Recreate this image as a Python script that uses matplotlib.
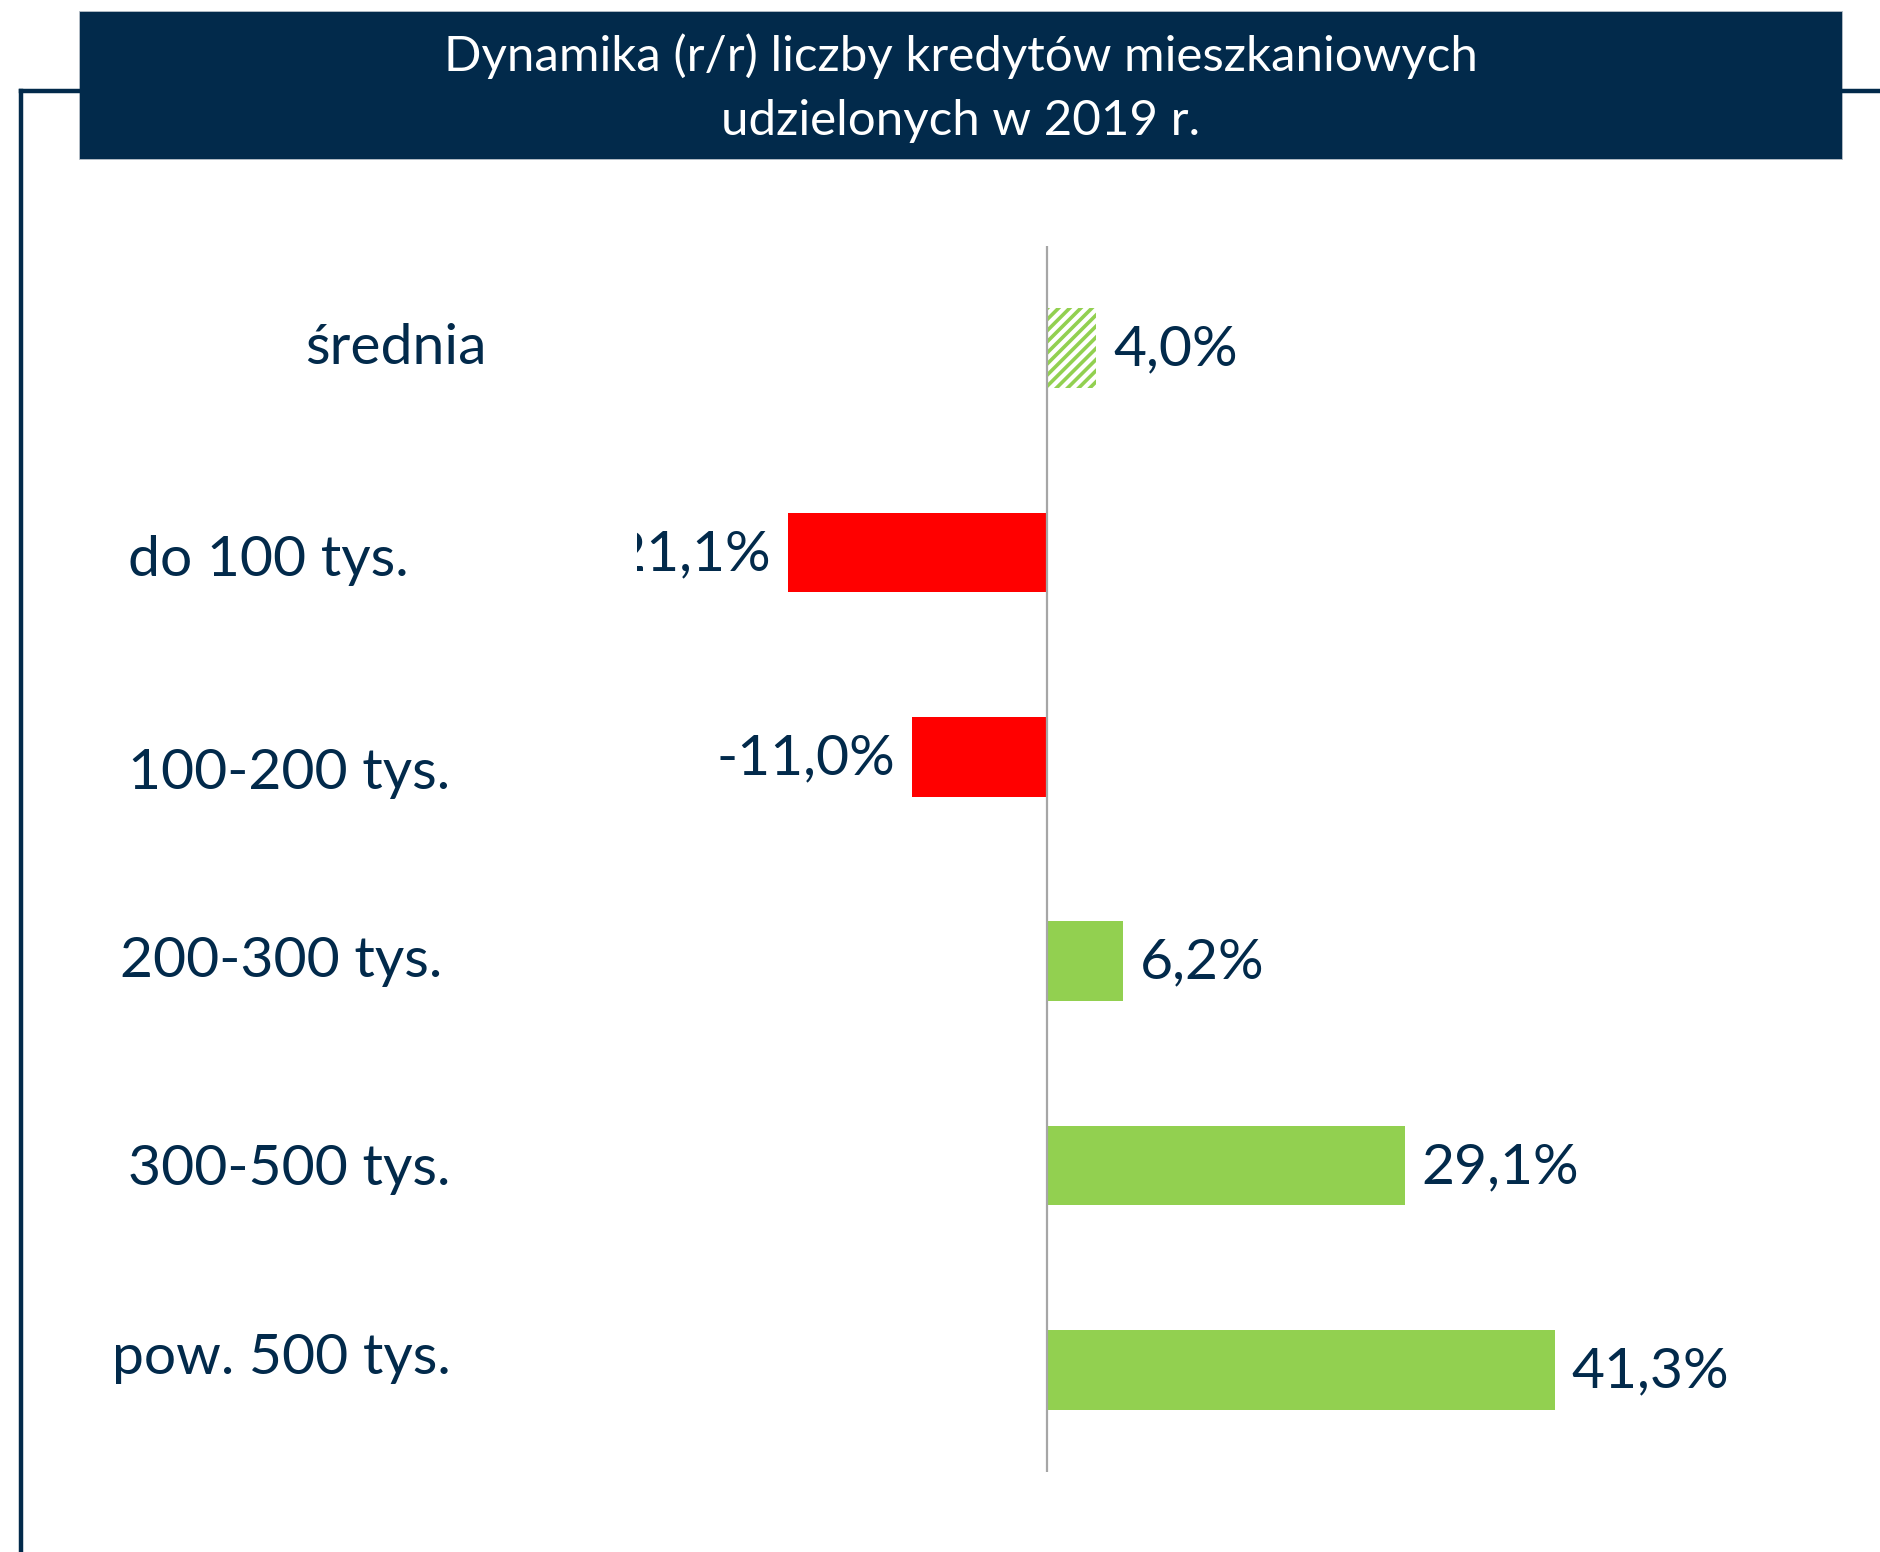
import matplotlib
matplotlib.use("Agg")
import matplotlib.pyplot as plt
from matplotlib.patches import Rectangle
from matplotlib.lines import Line2D
import matplotlib.transforms as mtransforms

# ---- data ----
categories = ["średnia", "do 100 tys.", "100-200 tys.", "200-300 tys.", "300-500 tys.", "pow. 500 tys."]
values = [4.0, -21.1, -11.0, 6.2, 29.1, 41.3]
value_labels = ["4,0%", "-21,1%", "-11,0%", "6,2%", "29,1%", "41,3%"]
title_lines = ["Dynamika (r/r) liczby kredytów mieszkaniowych", "udzielonych w 2019 r."]

# ---- layout / style ----
W, H = 1880, 1552
NAVY = "#022a4b"
GREEN = "#92d050"
RED = "#ff0000"
FONT = ["Lato", "DejaVu Sans"]
plt.rcParams["font.family"] = FONT
plt.rcParams["hatch.linewidth"] = 2.6

fig = plt.figure(figsize=(W / 100, H / 100), dpi=100)

def fx(px):
    return px / W

def fy(py):
    return 1 - py / H

# frame lines
fig.add_artist(Line2D([fx(21), fx(21)], [fy(91), 0], color=NAVY, lw=3.2, transform=fig.transFigure))
fig.add_artist(Line2D([fx(21), fx(80)], [fy(91), fy(91)], color=NAVY, lw=3.2, transform=fig.transFigure))
fig.add_artist(Line2D([fx(1842), 1.0], [fy(91), fy(91)], color=NAVY, lw=3.2, transform=fig.transFigure))
# title box
fig.add_artist(Rectangle((fx(79), fy(159)), fx(1842) - fx(79), fy(11) - fy(159),
                         facecolor=NAVY, edgecolor="#b8c0c8", lw=0.6, transform=fig.transFigure))
fig.text(fx(961), fy(56), title_lines[0], color="white", fontsize=35.5, ha="center", va="center")
fig.text(fx(961), fy(121), title_lines[1], color="white", fontsize=35.5, ha="center", va="center")

# axes: left edge acts as clipping edge for data labels
ax_left, ax_right, ax_top, ax_bottom = 637, 1840, 246, 1472
zero_px = 1047
px_per_unit = 12.29
ax = fig.add_axes([fx(ax_left), fy(ax_bottom), fx(ax_right) - fx(ax_left), fy(ax_top) - fy(ax_bottom)])
ax.set_xlim(-(zero_px - ax_left) / px_per_unit, (ax_right - zero_px) / px_per_unit)
n = len(categories)
ax.set_ylim(n - 0.5, -0.5)
ax.axis("off")

ypos = list(range(n))
colors = [GREEN if v >= 0 else RED for v in values]
bars = ax.barh(ypos, values, height=0.39, color=colors, edgecolor="none", zorder=2)
# hatched "średnia"
bars[0].set_facecolor("white")
bars[0].set_edgecolor(GREEN)
bars[0].set_hatch("///")
bars[0].set_linewidth(0)

ax.axvline(0, color="#a6a6a6", lw=1.6, zorder=3)

# value labels
for y, v, lab in zip(ypos, values, value_labels):
    off = 17 if v >= 0 else -17
    t = ax.annotate(lab, (v, y), xytext=(off * 0.72, -1.5), textcoords="offset points",
                    ha="left" if v >= 0 else "right", va="center", fontsize=41, color=NAVY,
                    annotation_clip=False)
    t.set_clip_on(True)
    t.set_clip_box(ax.bbox)

# category labels (manually placed text boxes, as in the original)
label_x_px = [305, 128, 128, 120, 128, 112]
label_dy = [0.0, 0.04, 0.083, 0.0, 0.02, -0.054]
trans = mtransforms.blended_transform_factory(fig.transFigure, ax.transData)
for y, cat, lx, dy in zip(ypos, categories, label_x_px, label_dy):
    ax.text(fx(lx), y + dy, cat, transform=trans, ha="left", va="center",
            fontsize=41, color=NAVY, clip_on=False)

fig.savefig("out.png", dpi=100)
